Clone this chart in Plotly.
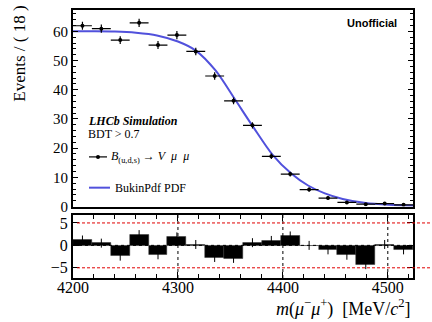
import plotly.graph_objects as go

# ---- data ----
bin_centers = [4209, 4227, 4245, 4263, 4281, 4299, 4317, 4335, 4353,
               4371, 4389, 4407, 4425, 4443, 4461, 4479, 4497, 4515]
bin_half = [9] * 18
events = [61.9, 60.9, 57.0, 62.9, 55.3, 58.7, 53.1, 44.7, 36.2,
          27.8, 17.2, 11.1, 5.8, 2.9, 1.4, 0.8, 1.0, 0.6]
event_err = [1.4, 1.4, 1.35, 1.4, 1.35, 1.4, 1.3, 1.25, 1.15,
             1.05, 0.95, 0.85, 0.7, 0.6, 0.5, 0.4, 0.35, 0.3]
curve_x = [4200, 4220, 4240, 4260, 4280, 4300, 4317, 4336, 4354,
           4372, 4390, 4408, 4424, 4440, 4457, 4479, 4501, 4524]
curve_y = [60.0, 60.0, 59.9, 59.5, 58.6, 56.5, 53.4, 46.5, 36.9,
           27.1, 17.8, 11.3, 7.2, 4.5, 2.6, 1.2, 0.6, 0.3]
pulls = [1.2, 0.5, -2.4, 2.4, -2.1, 1.9, 0.2, -2.7, -2.9,
         0.6, 1.1, 2.1, 0.0, -1.0, -2.2, -4.3, 0.2, -1.0]
pull_err = [1.0] * 18
x_ticks = [4200, 4300, 4400, 4500]
main_y_ticks = [0, 10, 20, 30, 40, 50, 60]
pull_y_ticks = [-5, 0, 5]
pull_y_labels = ["\u22125", "0", "5"]

SERIF = "Liberation Serif"
BLUE = "#5151dc"

fig = go.Figure()

fig.add_trace(go.Scatter(
    x=curve_x, y=curve_y, mode="lines", line=dict(color=BLUE, width=2, shape="spline", smoothing=0.8),
    xaxis="x", yaxis="y", showlegend=False, hoverinfo="skip"))

fig.add_trace(go.Scatter(
    x=bin_centers, y=events, mode="markers",
    marker=dict(color="black", size=4),
    error_x=dict(type="data", array=bin_half, color="black", thickness=1.2, width=0),
    error_y=dict(type="data", array=event_err, color="black", thickness=1.2, width=0),
    xaxis="x", yaxis="y", showlegend=False))

fig.add_trace(go.Bar(
    x=bin_centers, y=pulls, width=[18] * 18,
    marker=dict(color="black", line=dict(color="#333333", width=0.5)),
    error_y=dict(type="data", array=pull_err, color="black", thickness=1, width=0),
    xaxis="x2", yaxis="y2", showlegend=False))

L, R, T, B = 73, 19, 8, 44
W, H = 432, 322
pw, ph = W - L - R, H - T - B

def px_x(p):
    return (p - L) / pw

def px_y(p):
    return (H - B - p) / ph

main_bottom = px_y(206)
pull_top = px_y(214.3)

axis_common = dict(showline=True, linecolor="black", linewidth=2, mirror="ticks",
                   ticks="inside", tickcolor="black", showgrid=False, zeroline=False)

fig.update_layout(
    width=W, height=H, margin=dict(l=L, r=R, t=T, b=B),
    paper_bgcolor="white", plot_bgcolor="white", bargap=0,
    xaxis=dict(domain=[0, 1], range=[4200, 4524], anchor="y", showticklabels=False,
               ticks="", showline=True, linecolor="black", linewidth=2, mirror=True,
               showgrid=False, zeroline=False),
    yaxis=dict(domain=[main_bottom, 1], range=[0, 67.3], anchor="x",
               tickvals=main_y_ticks, ticklen=5, tickwidth=1,
               tickfont=dict(family=SERIF, size=15, color="black"),
               minor=dict(dtick=2, ticklen=3, ticks="inside", tickcolor="black", showgrid=False),
               **axis_common),
    xaxis2=dict(domain=[0, 1], range=[4200, 4524], anchor="y2", tickvals=x_ticks,
                ticklen=6, tickwidth=1, ticklabelstandoff=-6,
                tickfont=dict(family=SERIF, size=16, color="black"),
                minor=dict(dtick=20, tick0=4200, ticklen=4, ticks="inside", tickcolor="black", showgrid=False),
                **axis_common),
    yaxis2=dict(domain=[0, pull_top], range=[-7.27, 6.82], anchor="x2",
                tickvals=pull_y_ticks, ticktext=pull_y_labels, ticklen=6, tickwidth=1,
                tickfont=dict(family=SERIF, size=16, color="black"),
                **axis_common),
)

shapes = []
# reference lines in the pull pad
for xv in [4300, 4400, 4500]:
    shapes.append(dict(type="line", xref="x2", yref="y2", x0=xv, x1=xv, y0=-7.27, y1=6.82,
                       line=dict(color="black", width=1, dash="dot"), layer="above"))
shapes.append(dict(type="line", xref="x2", yref="y2", x0=4200, x1=4524, y0=0, y1=0,
                   line=dict(color="black", width=1, dash="dot"), layer="above"))
for yv in [5, -5]:
    shapes.append(dict(type="line", xref="paper", yref="y2", x0=px_x(77), x1=px_x(432), y0=yv, y1=yv,
                       line=dict(color="#e00000", width=1, dash="3px,2px"), layer="above"))
# legend samples
shapes.append(dict(type="line", xref="paper", yref="paper", x0=px_x(89), x1=px_x(107),
                   y0=px_y(156), y1=px_y(156), line=dict(color="black", width=1.2)))
shapes.append(dict(type="circle", xref="paper", yref="paper", x0=px_x(96), x1=px_x(100),
                   y0=px_y(158), y1=px_y(154), fillcolor="black", line=dict(color="black", width=0)))
shapes.append(dict(type="line", xref="paper", yref="paper", x0=px_x(89), x1=px_x(110),
                   y0=px_y(187), y1=px_y(187), line=dict(color=BLUE, width=2)))
fig.update_layout(shapes=shapes)

ann = []
def text(s, x, y, size, xanchor="left", family=SERIF, angle=0, yanchor="middle"):
    ann.append(dict(text=s, x=px_x(x), y=px_y(y), xref="paper", yref="paper",
                    xanchor=xanchor, yanchor=yanchor, showarrow=False, textangle=angle,
                    font=dict(family=family, size=size, color="black")))

text("Events / ( 18 )", 20, 52, 17, xanchor="center", angle=-90)
text("<b>Unofficial</b>", 399, 21, 11, xanchor="right", family="Liberation Sans")
text("<b><i>LHCb Simulation</i></b>", 86, 120, 12)
text("BDT > 0.7", 86, 133, 12)
text("<i>B</i><sub>(u,d,s)</sub> \u2192 <i>V</i>  <i>\u03bc</i>  <i>\u03bc</i>", 109, 156, 12)
text("BukinPdf PDF", 113, 187, 12)
text("<i>m</i>(<i>\u03bc</i><sup>\u2212</sup><i>\u03bc</i><sup>+</sup>)  [MeV/<i>c</i><sup>2</sup>]",
     413, 322, 18, xanchor="right", yanchor="bottom")
fig.update_layout(annotations=ann)

fig.write_html("out.html", config={"displayModeBar": False},
               post_script="document.body.style.margin='0';document.body.style.padding='0';")
